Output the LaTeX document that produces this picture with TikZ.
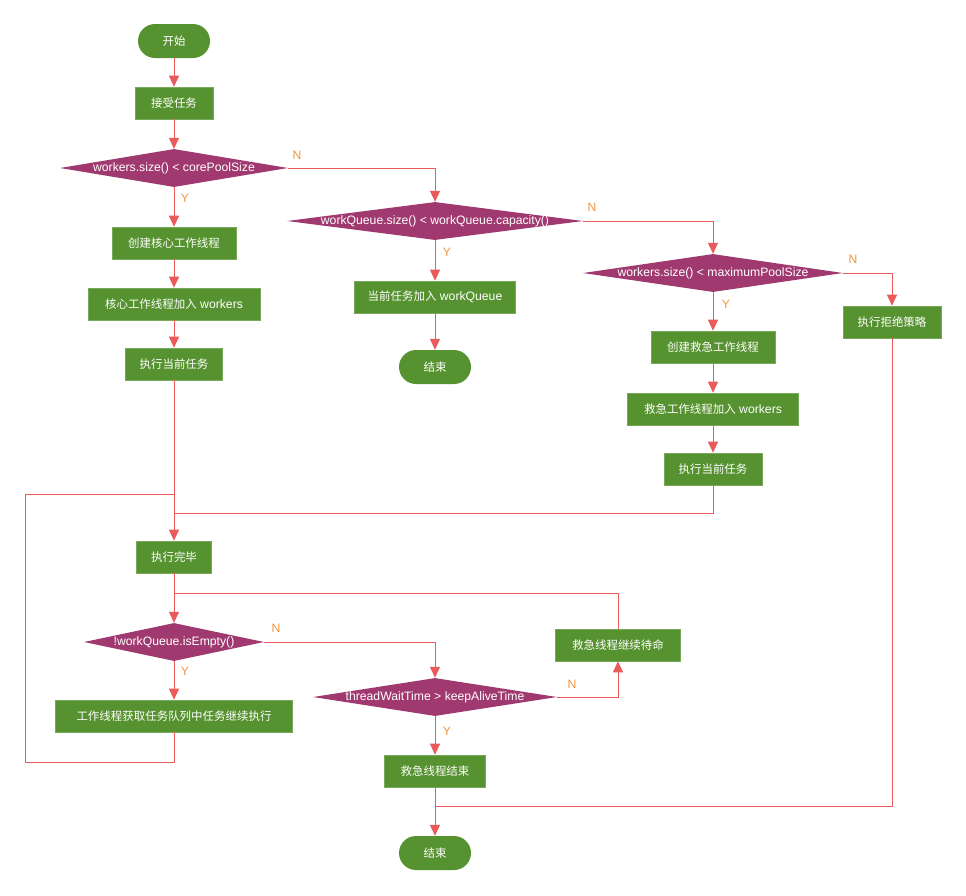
\documentclass[tikz,border=0pt]{standalone}
\usepackage{fontspec}
\setmainfont{Liberation Sans}
\newfontfamily\cjk[Scale=0.94]{Noto Sans CJK SC}
\usetikzlibrary{shapes.geometric,arrows.meta}
\definecolor{boxgreen}{HTML}{56922F}
\definecolor{diapurple}{HTML}{A0396F}
\definecolor{linered}{HTML}{EA5A5A}
\definecolor{lblorange}{HTML}{F0953E}
\tikzset{
  txt/.style={font=\fontsize{12.2}{14}\selectfont},
  box/.style={rectangle, fill=boxgreen, draw=boxgreen!80!white, line width=0.6pt, text=white, inner sep=0pt, txt},
  pill/.style={rectangle, rounded corners=17pt, fill=boxgreen, text=white, inner sep=0pt, minimum width=72pt, minimum height=34pt, txt},
  dia/.style={diamond, fill=diapurple, inner sep=0pt, label={[text=white, txt]center:#1}},
  conn/.style={draw=linered, line width=1pt},
  arr/.style={conn, -{Triangle[length=11pt,width=10pt]}},
  yn/.style={text=lblorange, txt, inner sep=0pt}
}
\begin{document}
\begin{tikzpicture}[x=1pt,y=-1pt]
\useasboundingbox (0,0) rectangle (966,895);
% left column
\node[pill] (start) at (174,41) {\cjk 开始};
\node[box, minimum width=78pt, minimum height=32pt] (recv) at (174,103) {\cjk 接受任务};
\node[dia={workers.size() < corePoolSize}, minimum width=228pt, minimum height=38pt] (d1) at (174,168) {};
\node[box, minimum width=124pt, minimum height=32pt] (b1) at (174,243) {\cjk 创建核心工作线程};
\node[box, minimum width=172pt, minimum height=32pt] (b2) at (174,304) {{\cjk 核心工作线程加入} workers};
\node[box, minimum width=97pt, minimum height=32pt] (b3) at (174,364) {\cjk 执行当前任务};
% middle column
\node[dia={workQueue.size() < workQueue.capacity()}, minimum width=296pt, minimum height=38pt] (d2) at (435,221) {};
\node[box, minimum width=161pt, minimum height=32pt] (q) at (435,297) {{\cjk 当前任务加入} workQueue};
\node[pill] (end1) at (435,367) {\cjk 结束};
% right column
\node[dia={workers.size() < maximumPoolSize}, minimum width=260pt, minimum height=38pt] (d3) at (713,273) {};
\node[box, minimum width=124pt, minimum height=32pt] (c1) at (713,347) {\cjk 创建救急工作线程};
\node[box, minimum width=171pt, minimum height=32pt] (c2) at (713,409) {{\cjk 救急工作线程加入} workers};
\node[box, minimum width=98pt, minimum height=32pt] (e3) at (713,469) {\cjk 执行当前任务};
\node[box, minimum width=98pt, minimum height=32pt] (reject) at (892,322) {\cjk 执行拒绝策略};
% lower part
\node[box, minimum width=75pt, minimum height=32pt] (done) at (174,557) {\cjk 执行完毕};
\node[dia={!workQueue.isEmpty()}, minimum width=180pt, minimum height=38pt] (d4) at (174,642) {};
\node[box, minimum width=237pt, minimum height=32pt] (get) at (174,716) {\cjk 工作线程获取任务队列中任务继续执行};
\node[dia={threadWaitTime > keepAliveTime}, minimum width=244pt, minimum height=38pt] (d5) at (435,697) {};
\node[box, minimum width=125pt, minimum height=32pt] (standby) at (618,645) {\cjk 救急线程继续待命};
\node[box, minimum width=101pt, minimum height=32pt] (fin) at (435,771) {\cjk 救急线程结束};
\node[pill] (end2) at (435,853) {\cjk 结束};
% join coordinates
\coordinate (lp1) at (25,762);
\coordinate (j1) at (174,494);
\coordinate (j2) at (174,513);
\coordinate (j3) at (174,593);
\coordinate (j4) at (435,806);
% connectors
\draw[arr] (start) -- (recv);
\draw[arr] (recv) -- (d1);
\draw[arr] (d1.east) -| (d2.north);
\draw[arr] (d1.south) -- (b1);
\draw[arr] (b1) -- (b2);
\draw[arr] (b2) -- (b3);
\draw[arr] (b3) -- (done);
\draw[arr] (d2.south) -- (q);
\draw[arr] (q) -- (end1);
\draw[arr] (d2.east) -| (d3.north);
\draw[arr] (d3.east) -| (reject.north);
\draw[arr] (d3.south) -- (c1);
\draw[arr] (c1) -- (c2);
\draw[arr] (c2) -- (e3);
\draw[conn] (e3.south) |- (j2);
\draw[conn] (get.south) |- (lp1) |- (j1);
\draw[arr] (done) -- (d4.north);
\draw[conn] (standby.north) |- (j3);
\draw[arr] (d4.east) -| (d5.north);
\draw[arr] (d4.south) -- (get);
\draw[arr] (d5.east) -| (standby.south);
\draw[arr] (d5.south) -- (fin);
\draw[arr] (fin) -- (end2);
\draw[conn] (reject.south) |- (j4);
% Y/N labels
\node[yn] (n1) at (297,155) {N};
\node[yn] (y1) at (185,198) {Y};
\node[yn] (n2) at (592,207) {N};
\node[yn] (y2) at (447,252) {Y};
\node[yn] (n3) at (853,259) {N};
\node[yn] (y3) at (726,304) {Y};
\node[yn] (n4) at (276,628) {N};
\node[yn] (y4) at (185,671) {Y};
\node[yn] (n5) at (572,684) {N};
\node[yn] (y5) at (447,731) {Y};
\end{tikzpicture}
\end{document}
